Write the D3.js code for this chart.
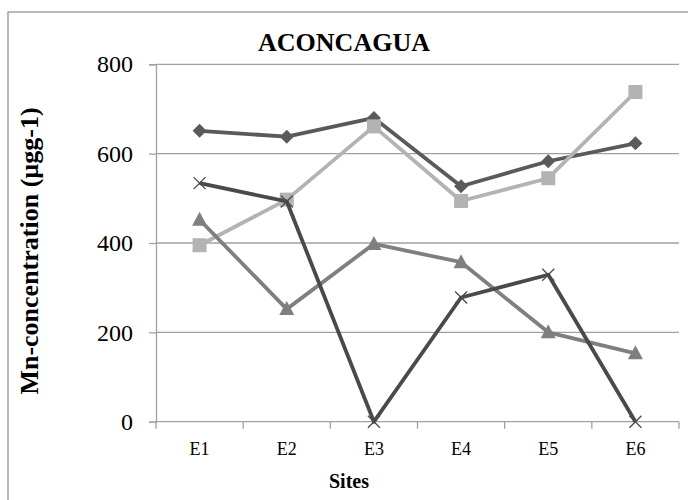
<!DOCTYPE html>
<html>
<head>
<meta charset="utf-8">
<script src="https://cdn.jsdelivr.net/npm/d3@7"></script>
<style>
  html, body { margin: 0; padding: 0; background: #fff; }
  svg { display: block; font-family: "Liberation Serif", "Times New Roman", serif; }
</style>
</head>
<body>
<svg id="chart" width="688" height="500"></svg>
<script>
// Sampling sites and Mn concentrations (µg g-1) per series
const sites = ["E1", "E2", "E3", "E4", "E5", "E6"];
const seriesDiamond = [651, 638, 680, 527, 583, 623];
const seriesSquare = [395, 497, 661, 494, 545, 738];
const seriesTriangle = [452, 252, 398, 357, 200, 153];
const seriesCross = [534, 493, 0, 278, 329, 0];
const yTicks = [0, 200, 400, 600, 800];

const series = [
  { values: seriesDiamond, color: "#5a5a5a", marker: "diamond" },
  { values: seriesSquare, color: "#b3b3b3", marker: "square" },
  { values: seriesTriangle, color: "#7f7f7f", marker: "triangle" },
  { values: seriesCross, color: "#4a4a4a", marker: "cross" }
];

const svg = d3.select("#chart");
const plotLeft = 156, plotRight = 679, plotTop = 64.3, plotBottom = 421.7;

// chart frame
svg.append("rect")
  .attr("x", 8).attr("y", 12).attr("width", 700).attr("height", 520)
  .attr("fill", "none").attr("stroke", "#8c8c8c").attr("stroke-width", 1.2);

const x = d3.scaleBand().domain(sites).range([plotLeft, plotRight]);
const y = d3.scaleLinear().domain([0, 800]).range([plotBottom, plotTop]);

// horizontal gridlines
svg.append("g").selectAll("line").data(yTicks.filter(d => d > 0)).join("line")
  .attr("x1", plotLeft).attr("x2", plotRight)
  .attr("y1", d => y(d)).attr("y2", d => y(d))
  .attr("stroke", "#a0a0a0").attr("stroke-width", 1.3);

// y axis
const yAxis = svg.append("g").attr("transform", `translate(${plotLeft},0)`)
  .call(d3.axisLeft(y).tickValues(yTicks).tickSize(7).tickPadding(16).tickFormat(d3.format("d")));
yAxis.select(".domain").attr("stroke", "#a0a0a0").attr("stroke-width", 1.3);
yAxis.selectAll(".tick line").attr("stroke", "#a0a0a0").attr("stroke-width", 1.3);
yAxis.selectAll("text").attr("font-size", 24).attr("fill", "#000")
  .attr("font-family", "Liberation Serif, serif");

// x axis with ticks at band edges
const xAxisG = svg.append("g").attr("transform", `translate(0,${plotBottom})`);
xAxisG.append("line").attr("x1", plotLeft).attr("x2", plotRight)
  .attr("stroke", "#a0a0a0").attr("stroke-width", 1.3);
const edges = sites.map(s => x(s)).concat([x(sites[sites.length - 1]) + x.bandwidth()]);
xAxisG.selectAll("line.tk").data(edges).join("line").attr("class", "tk")
  .attr("x1", d => d).attr("x2", d => d).attr("y1", 0).attr("y2", 7)
  .attr("stroke", "#a0a0a0").attr("stroke-width", 1.3);
xAxisG.selectAll("text").data(sites).join("text")
  .attr("x", d => x(d) + x.bandwidth() / 2).attr("y", 33.3)
  .attr("text-anchor", "middle").attr("font-size", 18).attr("fill", "#000")
  .text(d => d);

// lines and markers
const line = d3.line()
  .x((d, i) => x(sites[i]) + x.bandwidth() / 2)
  .y(d => y(d));

series.forEach(s => {
  const g = svg.append("g");
  g.append("path").datum(s.values)
    .attr("d", line).attr("fill", "none")
    .attr("stroke", s.color).attr("stroke-width", 3.8).attr("stroke-linejoin", "round");
  const pts = g.selectAll("g.pt").data(s.values).join("g")
    .attr("transform", (d, i) => `translate(${x(sites[i]) + x.bandwidth() / 2},${y(d)})`);
  if (s.marker === "diamond") {
    pts.append("path").attr("d", "M0,-7L7,0L0,7L-7,0Z").attr("fill", s.color);
  } else if (s.marker === "square") {
    pts.append("rect").attr("x", -7).attr("y", -7).attr("width", 14).attr("height", 14).attr("fill", s.color);
  } else if (s.marker === "triangle") {
    pts.append("path").attr("d", "M0,-8L7.5,6L-7.5,6Z").attr("fill", s.color);
  } else {
    pts.append("path").attr("d", "M-6,-6L6,6M-6,6L6,-6")
      .attr("stroke", s.color).attr("stroke-width", 1.3).attr("fill", "none");
  }
});

// titles
svg.append("text").attr("x", 344).attr("y", 51).attr("text-anchor", "middle")
  .attr("font-size", 26).attr("font-weight", "bold").text("ACONCAGUA");
svg.append("text").attr("x", 349).attr("y", 488).attr("text-anchor", "middle")
  .attr("font-size", 20).attr("font-weight", "bold").text("Sites");
svg.append("text").attr("transform", "translate(37.5,251) rotate(-90)")
  .attr("text-anchor", "middle").attr("font-size", 26).attr("font-weight", "bold")
  .text("Mn-concentration (µgg-1)");
</script>
</body>
</html>
